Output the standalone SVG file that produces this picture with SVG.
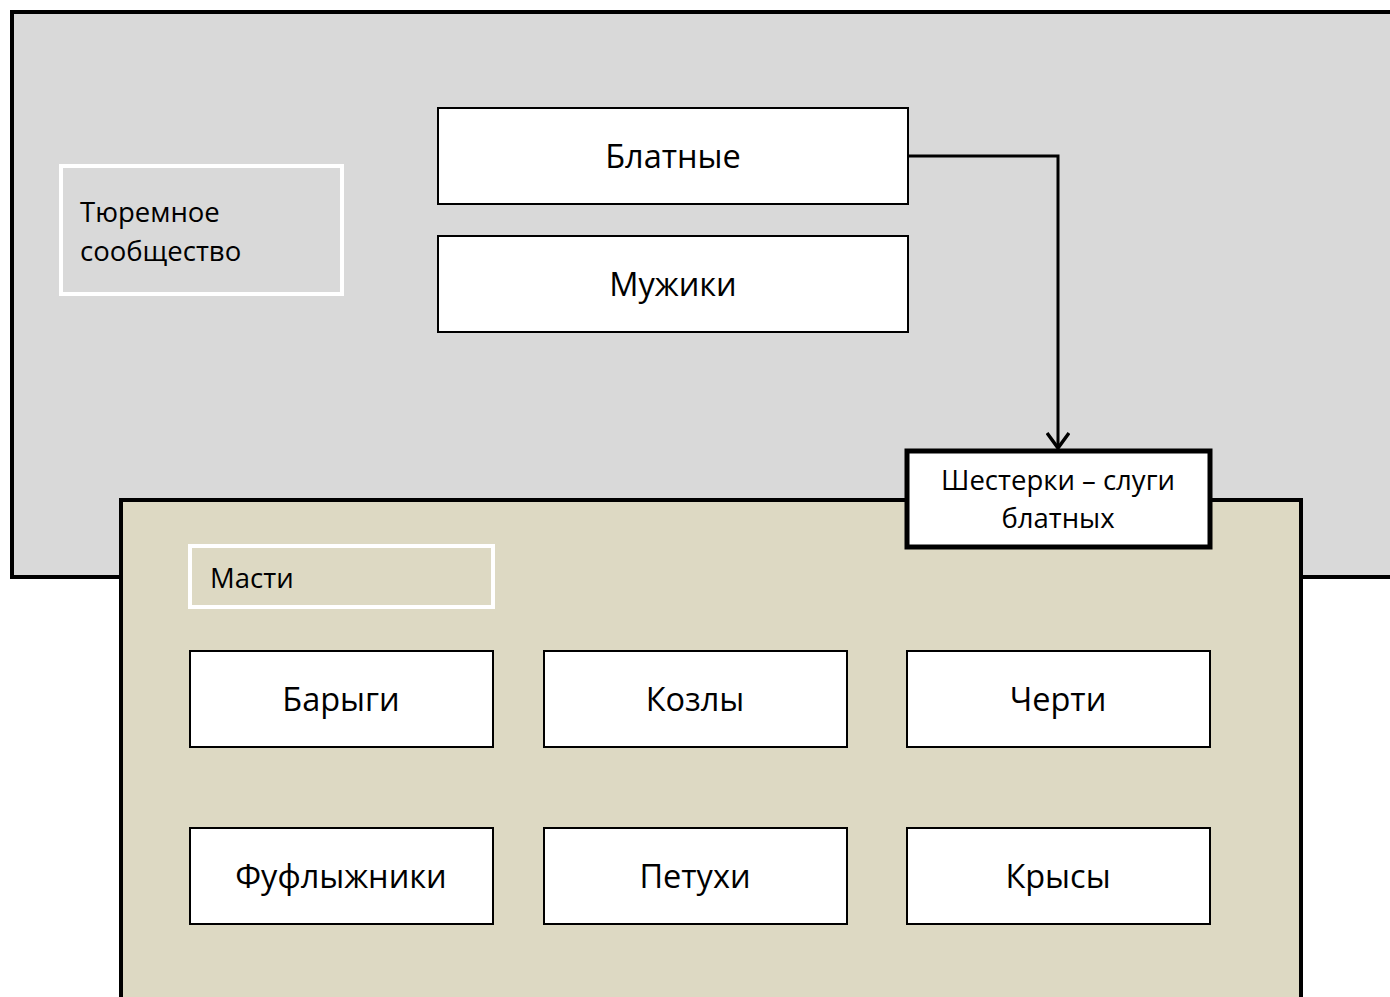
<svg xmlns="http://www.w3.org/2000/svg" width="1390" height="997" viewBox="0 0 1390 997">
<style>
.t{font-family:"Open Sans","Liberation Sans",sans-serif;fill:#000}
.b{fill:#fff;stroke:#000;stroke-width:2}
.lbl{fill:none;stroke:#fff;stroke-width:4}
.big{font-size:32.5px;text-anchor:middle}
.mid{font-size:27.5px}
</style>
<defs>
<marker id="arr" markerWidth="24" markerHeight="24" refX="17" refY="12" orient="auto" markerUnits="userSpaceOnUse">
<path d="M2,1 L17,12 L2,23" fill="none" stroke="#000" stroke-width="3.5"/>
</marker>
</defs>
<g id="prison">
<rect x="12" y="12" width="1400" height="565" fill="#d9d9d9" stroke="#000" stroke-width="4"/>
<rect x="61" y="166" width="281" height="128" class="lbl"/>
<text class="t mid" x="80" y="222">Тюремное</text>
<text class="t mid" x="80" y="261">сообщество</text>
</g>
<g id="masti">
<rect x="121" y="500" width="1180" height="520" fill="#ddd9c3" stroke="#000" stroke-width="4"/>
<rect x="190" y="546" width="303" height="61" class="lbl"/>
<text class="t mid" x="210" y="588">Масти</text>
</g>
<g id="blatnye"><rect x="438" y="108" width="470" height="96" class="b"/><text class="t big" x="673" y="168">Блатные</text></g>
<g id="muzhiki"><rect x="438" y="236" width="470" height="96" class="b"/><text class="t big" x="673" y="296">Мужики</text></g>
<g id="shesterki"><rect x="907" y="451" width="303" height="96" fill="#fff" stroke="#000" stroke-width="5"/>
<text class="t mid" x="1058" y="490" text-anchor="middle">Шестерки – слуги</text>
<text class="t mid" x="1058" y="528" text-anchor="middle">блатных</text></g>
<g id="barygi"><rect x="190" y="651" width="303" height="96" class="b"/><text class="t big" x="341" y="711">Барыги</text></g>
<g id="kozly"><rect x="544" y="651" width="303" height="96" class="b"/><text class="t big" x="695" y="711">Козлы</text></g>
<g id="cherti"><rect x="907" y="651" width="303" height="96" class="b"/><text class="t big" x="1058" y="711">Черти</text></g>
<g id="fuflyzhniki"><rect x="190" y="828" width="303" height="96" class="b"/><text class="t big" x="341" y="888">Фуфлыжники</text></g>
<g id="petuhi"><rect x="544" y="828" width="303" height="96" class="b"/><text class="t big" x="695" y="888">Петухи</text></g>
<g id="krysy"><rect x="907" y="828" width="303" height="96" class="b"/><text class="t big" x="1058" y="888">Крысы</text></g>
<g id="connectors">
<path d="M908,156 H1058 V448" fill="none" stroke="#000" stroke-width="3" marker-end="url(#arr)"/>
</g>
</svg>
